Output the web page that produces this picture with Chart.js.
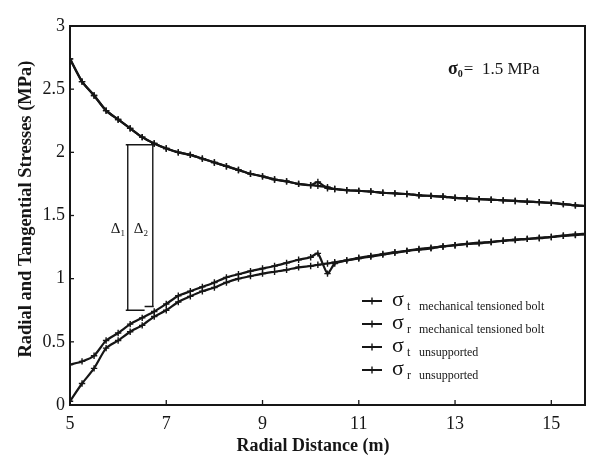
<!DOCTYPE html>
<html>
<head>
<meta charset="utf-8">
<script src="https://cdn.jsdelivr.net/npm/chart.js@4/dist/chart.umd.min.js"></script>
<style>
  html, body { margin: 0; padding: 0; background: #fff; }
  #wrap { width: 592px; height: 457px; }
</style>
</head>
<body>
<div id="wrap"><canvas id="c" width="592" height="457"></canvas></div>
<script>
// ---- data ----
const radialDistance = [5.0,5.25,5.5,5.75,6.0,6.25,6.5,6.75,7.0,7.25,7.5,7.75,8.0,8.25,8.5,8.75,9.0,9.25,9.5,9.75,10.0,10.15,10.35,10.5,10.75,11.0,11.25,11.5,11.75,12.0,12.25,12.5,12.75,13.0,13.25,13.5,13.75,14.0,14.25,14.5,14.75,15.0,15.25,15.5,15.7];

const sigmaTMech = [2.74,2.56,2.45,2.33,2.26,2.19,2.12,2.07,2.03,2.00,1.98,1.95,1.92,1.89,1.86,1.83,1.81,1.785,1.77,1.75,1.74,1.765,1.715,1.71,1.70,1.695,1.69,1.68,1.675,1.67,1.66,1.655,1.65,1.64,1.635,1.63,1.625,1.62,1.615,1.61,1.605,1.60,1.59,1.58,1.575];
const sigmaRMech = [0.32,0.345,0.39,0.51,0.57,0.64,0.69,0.74,0.80,0.865,0.90,0.935,0.97,1.01,1.035,1.06,1.08,1.10,1.125,1.15,1.17,1.20,1.04,1.12,1.145,1.165,1.18,1.195,1.21,1.22,1.235,1.245,1.255,1.265,1.275,1.285,1.29,1.30,1.31,1.315,1.325,1.33,1.34,1.35,1.355];
const sigmaTUnsup = [2.74,2.56,2.45,2.33,2.26,2.19,2.12,2.07,2.03,2.00,1.98,1.95,1.92,1.89,1.86,1.83,1.81,1.785,1.77,1.75,1.74,1.735,1.725,1.71,1.70,1.695,1.69,1.68,1.675,1.67,1.66,1.655,1.65,1.64,1.635,1.63,1.625,1.62,1.615,1.61,1.605,1.60,1.59,1.58,1.575];
const sigmaRUnsup = [0.03,0.17,0.29,0.45,0.51,0.58,0.63,0.70,0.75,0.815,0.86,0.90,0.93,0.97,1.00,1.02,1.04,1.055,1.07,1.09,1.10,1.11,1.12,1.13,1.145,1.16,1.175,1.19,1.205,1.22,1.23,1.24,1.255,1.265,1.275,1.28,1.29,1.30,1.305,1.315,1.32,1.33,1.34,1.345,1.35];

const xTickValues = [5, 7, 9, 11, 13, 15];
const yTickValues = [0, 0.5, 1, 1.5, 2, 2.5, 3];
const yTickLabels = ['0', '0.5', '1', '1.5', '2', '2.5', '3'];

const legendSubs = ['t', 'r', 't', 'r'];
const legendTexts = ['mechanical tensioned bolt', 'mechanical tensioned bolt', 'unsupported', 'unsupported'];

// Δ bracket (data units)
const bracketTop = 2.06;
const bracketLeftX = 6.2;
const bracketRightX = 6.72;
const bracketLeftBottom = 0.75;
const bracketRightBottom = 0.78;

const INK = '#161616';
const SERIF = '"Liberation Serif", "DejaVu Serif", serif';

function pts(ys) { return radialDistance.map((x, i) => ({ x: x, y: ys[i] })); }

function ds(label, ys, style) {
  return {
    label: label, data: pts(ys),
    borderColor: INK, backgroundColor: INK, borderWidth: 2.2,
    pointStyle: style, pointRadius: 3.2, pointBorderWidth: 1.4,
    pointBorderColor: INK, pointBackgroundColor: INK,
    tension: 0.2, fill: false
  };
}

const overlay = {
  id: 'overlay',
  afterDraw(chart) {
    const ctx = chart.ctx;
    const xs = chart.scales.x, ys = chart.scales.y;
    const a = chart.chartArea;
    ctx.save();
    // frame
    ctx.strokeStyle = INK; ctx.lineWidth = 2;
    ctx.strokeRect(a.left, a.top, a.right - a.left, a.bottom - a.top);
    // inward ticks
    ctx.lineWidth = 1.3;
    xTickValues.forEach(v => {
      const px = xs.getPixelForValue(v);
      ctx.beginPath(); ctx.moveTo(px, a.bottom); ctx.lineTo(px, a.bottom - 5); ctx.stroke();
    });
    yTickValues.forEach(v => {
      const py = ys.getPixelForValue(v);
      ctx.beginPath(); ctx.moveTo(a.left, py); ctx.lineTo(a.left + 4, py); ctx.stroke();
    });

    // bracket
    ctx.lineWidth = 1.4;
    const pl = xs.getPixelForValue(bracketLeftX), pr = xs.getPixelForValue(bracketRightX);
    const pt = ys.getPixelForValue(bracketTop);
    const plb = ys.getPixelForValue(bracketLeftBottom), prb = ys.getPixelForValue(bracketRightBottom);
    ctx.beginPath();
    ctx.moveTo(pl - 2, pt); ctx.lineTo(pr + 1, pt);
    ctx.moveTo(pl, pt); ctx.lineTo(pl, plb);
    ctx.moveTo(pl - 2, plb); ctx.lineTo(xs.getPixelForValue(6.55), plb);
    ctx.moveTo(pr, pt); ctx.lineTo(pr, prb);
    ctx.moveTo(xs.getPixelForValue(6.55), prb); ctx.lineTo(pr + 1, prb);
    ctx.stroke();

    ctx.fillStyle = INK;
    ctx.textBaseline = 'alphabetic';
    // Δ labels
    function delta(x, y, sub) {
      ctx.font = '15px ' + SERIF; ctx.textAlign = 'left';
      ctx.fillText('Δ', x, y);
      const w = ctx.measureText('Δ').width;
      ctx.font = '9px ' + SERIF;
      ctx.fillText(sub, x + w, y + 3);
    }
    delta(pl - 17, ys.getPixelForValue(1.36), '1');
    delta(pl + 6, ys.getPixelForValue(1.36), '2');

    // sigma0 annotation
    ctx.font = 'bold 18px ' + SERIF; ctx.textAlign = 'left';
    let x0 = 448, y0 = 74;
    ctx.fillText('σ', x0, y0);
    let w0 = ctx.measureText('σ').width;
    ctx.font = 'bold 10px ' + SERIF;
    ctx.fillText('0', x0 + w0, y0 + 3);
    ctx.font = '17px ' + SERIF;
    ctx.fillText('=  1.5 MPa', x0 + w0 + 6, y0);

    // legend
    const rows = [301, 324, 347, 370];
    rows.forEach((ry, i) => {
      ctx.strokeStyle = INK; ctx.lineWidth = 2;
      ctx.beginPath(); ctx.moveTo(362, ry); ctx.lineTo(382, ry); ctx.stroke();
      ctx.lineWidth = 1.4;
      ctx.beginPath(); ctx.moveTo(372, ry - 3.5); ctx.lineTo(372, ry + 3.5);
      ctx.moveTo(368.5, ry); ctx.lineTo(375.5, ry); ctx.stroke();
      ctx.font = '22px ' + SERIF; ctx.textAlign = 'left';
      ctx.fillText('σ', 392, ry + 5);
      ctx.font = '12px ' + SERIF;
      ctx.fillText(legendSubs[i], 407, ry + 9);
      ctx.font = '12px ' + SERIF;
      ctx.fillText(legendTexts[i], 419, ry + 9);
    });

    // axis titles
    ctx.font = 'bold 18px ' + SERIF;
    ctx.textAlign = 'center'; ctx.textBaseline = 'middle';
    ctx.fillText('Radial Distance (m)', 313, 446);
    ctx.font = 'bold 18.5px ' + SERIF;
    ctx.translate(26, 209);
    ctx.rotate(-Math.PI / 2);
    ctx.fillText('Radial and Tangential Stresses (MPa)', 0, 0);
    ctx.restore();
  }
};

new Chart(document.getElementById('c'), {
  type: 'line',
  data: {
    datasets: [
      ds('σt mechanical tensioned bolt', sigmaTMech, 'cross'),
      ds('σr mechanical tensioned bolt', sigmaRMech, 'cross'),
      ds('σt unsupported', sigmaTUnsup, 'cross'),
      ds('σr unsupported', sigmaRUnsup, 'cross')
    ]
  },
  options: {
    responsive: false, animation: false,
    layout: { padding: { top: 26, right: 7, left: 0, bottom: 0 } },
    plugins: { legend: { display: false }, tooltip: { enabled: false } },
    scales: {
      x: {
        type: 'linear', min: 5, max: 15.7,
        afterBuildTicks(s) { s.ticks = xTickValues.map(v => ({ value: v })); },
        afterFit(s) { s.height = 52; },
        grid: { display: false, drawTicks: false },
        border: { display: false },
        ticks: { color: INK, font: { family: SERIF, size: 18 }, padding: 8, maxRotation: 0, autoSkip: false,
                 callback: (v) => String(v) }
      },
      y: {
        min: 0, max: 3,
        afterBuildTicks(s) { s.ticks = yTickValues.map(v => ({ value: v })); },
        afterFit(s) { s.width = 70; },
        grid: { display: false, drawTicks: false },
        border: { display: false },
        ticks: { color: INK, font: { family: SERIF, size: 18 }, padding: 5,
                 callback: (v) => yTickLabels[yTickValues.indexOf(v)] }
      }
    }
  },
  plugins: [overlay]
});
</script>
</body>
</html>
